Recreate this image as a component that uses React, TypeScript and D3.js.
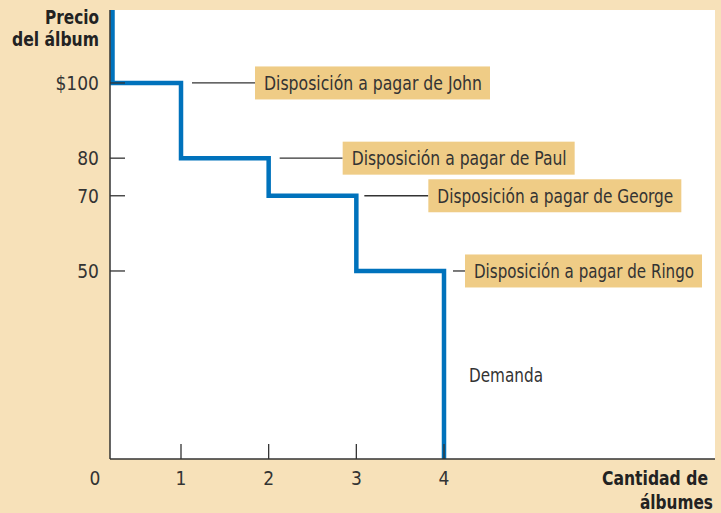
import React from "react";
import * as d3 from "d3";

// ---- data ----
const quantities = [0, 1, 2, 3, 4];
const prices = [100, 80, 70, 50];
const buyers = ["John", "Paul", "George", "Ringo"];
const yTickValues = [100, 80, 70, 50];
const yTickLabels = ["$100", "80", "70", "50"];
const xTickValues = [1, 2, 3, 4];
const xTickLabels = ["1", "2", "3", "4"];
const labelPrefix = "Disposición a pagar de ";
const demandLabel = "Demanda";
const yTitle = ["Precio", "del álbum"];
const xTitle = ["Cantidad de", "álbumes"];

// ---- layout ----
const W = 721;
const H = 513;
const axisX = 110;
const axisY = 459;
const plotRight = 715;
const plotTop = 10;
const connectorLen = [63, 63, 64, 12];
const connectorGap = [11, 11, 8, 9];
const boxWidths = [235, 232, 253, 237];
const boxH = 33;
const BG = "#f7e1b9";
const BOX = "#efcc86";
const BLUE = "#0072bc";
const TXT = "#333333";
const FONT = "'Liberation Sans Narrow', 'DejaVu Sans Condensed', 'Open Sans', sans-serif";

export default function App() {
  const x = d3.scaleLinear().domain([0, 1, 4]).range([112.5, 181, 444]);
  const y = d3.scaleLinear().domain([0, 119.4]).range([axisY, plotTop]);

  const stepPts: [number, number][] = [[0, 119.4]];
  prices.forEach((p, i) => stepPts.push([quantities[i + 1], p]));
  stepPts.push([quantities[quantities.length - 1], 0]);
  const line = d3
    .line<[number, number]>()
    .x((d) => x(d[0]))
    .y((d) => y(d[1]))
    .curve(d3.curveStepBefore);

  return (
    <div style={{ position: "absolute", left: 0, top: 0 }}>
      <svg width={W} height={H} style={{ display: "block" }} fontFamily={FONT}>
        <rect x={0} y={0} width={W} height={H} fill={BG} />
        <rect x={axisX} y={plotTop} width={plotRight - axisX} height={axisY - plotTop} fill="#ffffff" />

        {/* demand step line */}
        <path d={line(stepPts) || ""} fill="none" stroke={BLUE} strokeWidth={4.5} strokeLinejoin="miter" />

        {/* axes */}
        <line x1={axisX} x2={axisX} y1={plotTop} y2={axisY} stroke="#333" strokeWidth={1.5} />
        <line x1={axisX} x2={plotRight} y1={axisY} y2={axisY} stroke="#333" strokeWidth={1.5} />

        {/* y ticks */}
        {yTickValues.map((v, i) => (
          <g key={"yt" + i}>
            <line x1={axisX} x2={axisX + 15} y1={y(v)} y2={y(v)} stroke="#333" strokeWidth={1.3} />
            <text x={99} y={y(v) + 7} textAnchor="end" fontSize={19} fill={TXT}>
              {yTickLabels[i]}
            </text>
          </g>
        ))}

        {/* x ticks */}
        {xTickValues.map((v, i) => (
          <g key={"xt" + i}>
            <line x1={x(v)} x2={x(v)} y1={axisY} y2={axisY - 15} stroke="#333" strokeWidth={1.3} />
            <text x={x(v)} y={485} textAnchor="middle" fontSize={19} fill={TXT}>
              {xTickLabels[i]}
            </text>
          </g>
        ))}
        <text x={95} y={485} textAnchor="middle" fontSize={19} fill={TXT}>0</text>

        {/* willingness-to-pay labels */}
        {buyers.map((b, i) => {
          const yy = y(prices[i]);
          const x0 = x(quantities[i + 1]) + connectorGap[i];
          const bx = x0 + connectorLen[i];
          return (
            <g key={"lab" + i}>
              <line x1={x0} x2={bx} y1={yy} y2={yy} stroke="#333" strokeWidth={1.3} />
              <rect x={bx} y={yy - boxH / 2} width={boxWidths[i]} height={boxH} fill={BOX} />
              <text
                x={bx + 9}
                y={yy + 7}
                fontSize={19}
                fill={TXT}
                textLength={boxWidths[i] - 17}
                lengthAdjust="spacingAndGlyphs"
              >
                {labelPrefix + b}
              </text>
            </g>
          );
        })}

        <text x={469} y={382} fontSize={19} fill={TXT} textLength={74} lengthAdjust="spacingAndGlyphs">
          {demandLabel}
        </text>

        {/* axis titles */}
        <text x={99} y={24} textAnchor="end" fontSize={20} fontWeight="bold" fill="#222" textLength={54} lengthAdjust="spacingAndGlyphs">
          {yTitle[0]}
        </text>
        <text x={99} y={46} textAnchor="end" fontSize={20} fontWeight="bold" fill="#222" textLength={87} lengthAdjust="spacingAndGlyphs">
          {yTitle[1]}
        </text>
        <text x={708} y={485} textAnchor="end" fontSize={20} fontWeight="bold" fill="#222" textLength={106} lengthAdjust="spacingAndGlyphs">
          {xTitle[0]}
        </text>
        <text x={713} y={509} textAnchor="end" fontSize={20} fontWeight="bold" fill="#222" textLength={73} lengthAdjust="spacingAndGlyphs">
          {xTitle[1]}
        </text>
      </svg>
    </div>
  );
}
